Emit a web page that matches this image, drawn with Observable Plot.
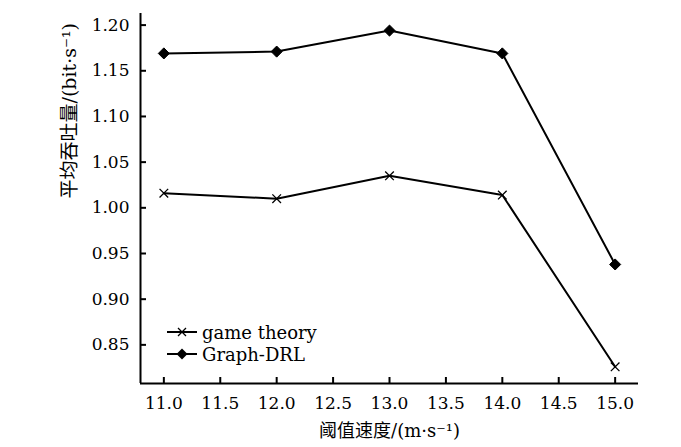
<!DOCTYPE html>
<html><head><meta charset="utf-8">
<script src="https://cdn.jsdelivr.net/npm/d3@7"></script>
<script src="https://cdn.jsdelivr.net/npm/@observablehq/plot@0.6"></script>
<style>
body{margin:0;background:#fff;}
#wrap{position:relative;width:681px;height:447px;font-family:"DejaVu Serif","Noto Sans CJK SC",serif;}
.legend{position:absolute;left:167px;top:321px;font-size:18px;color:#000;}
.legend .row{display:flex;align-items:center;height:22px;}
.legend svg{margin-right:5px;display:block;}
</style></head><body><div id="wrap"></div>
<script>
const speeds = [11, 12, 13, 14, 15];
const gameTheory = [1.016, 1.010, 1.035, 1.014, 0.826];
const graphDRL = [1.169, 1.171, 1.194, 1.169, 0.938];
const seriesNames = ["game theory", "Graph-DRL"];
const yTicks = [0.85, 0.90, 0.95, 1.00, 1.05, 1.10, 1.15, 1.20];
const xTicks = [11, 11.5, 12, 12.5, 13, 13.5, 14, 14.5, 15];
const xLabel = "阈值速度/(m·s⁻¹)";
const yLabel = "平均吞吐量/(bit·s⁻¹)";

const xDomain = [10.793, 15.207];
const yDomain = [0.8077, 1.2127];

const W = 681, H = 447;
const mL = 140, mR = 43, mT = 13, mB = 64;
const innerW = W - mL - mR, innerH = H - mT - mB;

const data = [];
speeds.forEach((s, i) => {
  data.push({speed: s, value: gameTheory[i], series: seriesNames[0]});
  data.push({speed: s, value: graphDRL[i], series: seriesNames[1]});
});

const chart = Plot.plot({
  width: W, height: H,
  marginLeft: mL, marginRight: mR, marginTop: mT, marginBottom: mB,
  style: {fontFamily: "'DejaVu Serif','Noto Sans CJK SC',serif", fontSize: "17px", color: "black", background: "white"},
  x: {domain: xDomain},
  y: {domain: yDomain},
  marks: [
    Plot.axisY(yTicks, {tickSize: 0, tickPadding: 11, tickFormat: d3.format(".2f"), label: null, fontSize: 17}),
    Plot.axisX(xTicks, {tickSize: 0, tickPadding: 13, tickFormat: d3.format(".1f"), label: null, fontSize: 17}),
    Plot.tickY(yTicks, {y: d => d, insetRight: innerW - 6, stroke: "black", strokeWidth: 2}),
    Plot.tickX(xTicks, {x: d => d, insetTop: innerH - 6, stroke: "black", strokeWidth: 2}),
    Plot.ruleX([xDomain[0]], {stroke: "black", strokeWidth: 2}),
    Plot.ruleY([yDomain[0]], {stroke: "black", strokeWidth: 2}),
    Plot.line(data, {x: "speed", y: "value", z: "series", stroke: "black", strokeWidth: 2}),
    Plot.dot(data.filter(d => d.series === seriesNames[1]), {x: "speed", y: "value", symbol: "diamond2", fill: "black", stroke: "black", strokeWidth: 1, r: 5}),
    Plot.dot(data.filter(d => d.series === seriesNames[0]), {x: "speed", y: "value", symbol: "times", stroke: "black", strokeWidth: 1.3, r: 4}),
    Plot.text([yLabel], {text: d => d, frameAnchor: "left", rotate: -90, dx: -71, fontSize: 19, fill: "black"}),
    Plot.text([xLabel], {text: d => d, frameAnchor: "bottom", dy: 53, fontSize: 18, fill: "black"})
  ]
});

const wrap = document.getElementById("wrap");
wrap.appendChild(chart);

const legend = document.createElement("div");
legend.className = "legend";
const markerSvg = (name) => name === seriesNames[0]
  ? `<line x1="0" y1="7" x2="30" y2="7" stroke="black" stroke-width="2"/><path d="M11,3L19,11M19,3L11,11" stroke="black" stroke-width="1.3"/>`
  : `<line x1="0" y1="7" x2="30" y2="7" stroke="black" stroke-width="2"/><path d="M15,1.5L20.5,7L15,12.5L9.5,7Z" fill="black"/>`;
seriesNames.forEach(name => {
  const row = document.createElement("div");
  row.className = "row";
  row.innerHTML = `<svg width="30" height="14">${markerSvg(name)}</svg><span>${name}</span>`;
  legend.appendChild(row);
});
wrap.appendChild(legend);
</script>
</body></html>
